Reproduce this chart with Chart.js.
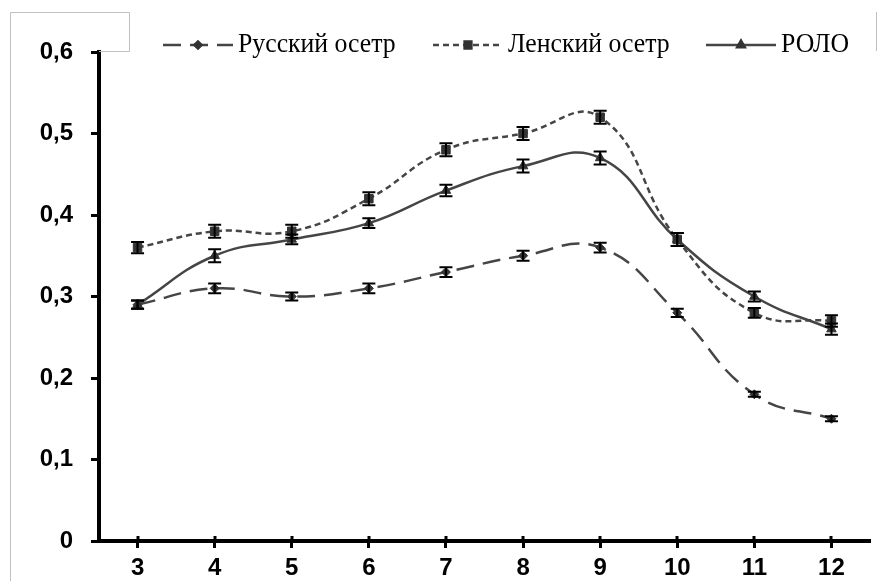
<!DOCTYPE html>
<html>
<head>
<meta charset="utf-8">
<script src="https://cdn.jsdelivr.net/npm/chart.js@4/dist/chart.umd.min.js"></script>
<style>
  html, body { margin: 0; padding: 0; background: #fff; }
  #wrap { width: 877px; height: 581px; }
</style>
</head>
<body>
<div id="wrap"><canvas id="c" width="877" height="581"></canvas></div>
<script>
// Months on the x axis
const months = ['3', '4', '5', '6', '7', '8', '9', '10', '11', '12'];

// Mean values per series
const russianSturgeon = [0.29, 0.31, 0.30, 0.31, 0.33, 0.35, 0.36, 0.28, 0.18, 0.15];
const lenaSturgeon    = [0.36, 0.38, 0.38, 0.42, 0.48, 0.50, 0.52, 0.37, 0.28, 0.27];
const rolo            = [0.29, 0.35, 0.37, 0.39, 0.43, 0.46, 0.47, 0.37, 0.30, 0.26];

// Error (± half-width) per point
const russianErr = [0.005, 0.006, 0.005, 0.006, 0.006, 0.006, 0.006, 0.005, 0.003, 0.003];
const lenaErr    = [0.007, 0.008, 0.008, 0.008, 0.008, 0.008, 0.008, 0.008, 0.006, 0.007];
const roloErr    = [0.005, 0.008, 0.006, 0.006, 0.007, 0.008, 0.008, 0.008, 0.006, 0.007];

// Y tick labels (decimal comma)
const yTickLabels = ['0', '0,1', '0,2', '0,3', '0,4', '0,5', '0,6'];

const seriesNames = ['Русский осетр', 'Ленский осетр', 'РОЛО'];

const lineColor = '#454545';
const markColor = '#333333';

const errors = [russianErr, lenaErr, roloErr];

// Legend sample start positions
const legendX = [163, 433, 706];
const legendY = 45;
const sampleLen = 70;

const errorBars = {
  id: 'errorBars',
  afterDatasetsDraw(chart) {
    const ctx = chart.ctx;
    const ys = chart.scales.y;
    ctx.save();
    ctx.strokeStyle = '#000';
    ctx.lineWidth = 2;
    chart.data.datasets.forEach((ds, i) => {
      const meta = chart.getDatasetMeta(i);
      const err = errors[i];
      meta.data.forEach((pt, j) => {
        const v = ds.data[j];
        const yt = ys.getPixelForValue(v + err[j]);
        const yb = ys.getPixelForValue(v - err[j]);
        const x = pt.x;
        ctx.beginPath();
        ctx.moveTo(x, yt); ctx.lineTo(x, yb);
        ctx.moveTo(x - 6.5, yt); ctx.lineTo(x + 6.5, yt);
        ctx.moveTo(x - 6.5, yb); ctx.lineTo(x + 6.5, yb);
        ctx.stroke();
      });
    });
    ctx.restore();
  }
};

const decorations = {
  id: 'decorations',
  afterDraw(chart) {
    const ctx = chart.ctx;
    const xs = chart.scales.x;
    const area = chart.chartArea;
    ctx.save();
    // thin frame lines
    ctx.strokeStyle = '#c0c0c0';
    ctx.lineWidth = 1;
    ctx.beginPath();
    ctx.moveTo(10.5, 581);
    ctx.lineTo(10.5, 12.5);
    ctx.lineTo(129.5, 12.5);
    ctx.lineTo(129.5, 51.5);
    ctx.lineTo(area.left, 51.5);
    ctx.moveTo(876.5, 12);
    ctx.lineTo(876.5, 51);
    ctx.stroke();

    // x tick marks crossing into the plot
    ctx.strokeStyle = '#000';
    ctx.lineWidth = 3;
    ctx.beginPath();
    months.forEach((m, i) => {
      const x = Math.round(xs.getPixelForValue(i));
      ctx.moveTo(x, area.bottom);
      ctx.lineTo(x, area.bottom - 5);
    });
    ctx.stroke();

    // legend: line sample with marker, then the series name
    chart.data.datasets.forEach((ds, i) => {
      const x0 = legendX[i];
      ctx.save();
      ctx.strokeStyle = ds.borderColor;
      ctx.lineWidth = ds.borderWidth;
      ctx.setLineDash(ds.borderDash || []);
      ctx.beginPath();
      ctx.moveTo(x0, legendY);
      ctx.lineTo(x0 + sampleLen, legendY);
      ctx.stroke();
      ctx.setLineDash([]);
      ctx.fillStyle = ds.pointBackgroundColor;
      ctx.strokeStyle = ds.pointBorderColor;
      Chart.helpers.drawPoint(ctx, {
        pointStyle: ds.pointStyle,
        radius: ds.pointRadius * 0.8,
        borderWidth: 1,
        rotation: 0
      }, x0 + sampleLen / 2, legendY);
      ctx.restore();

      ctx.save();
      ctx.font = '28px "Liberation Serif", "Times New Roman", serif';
      ctx.textBaseline = 'middle';
      ctx.fillStyle = '#000';
      ctx.translate(x0 + sampleLen + 5, legendY);
      ctx.scale(0.92, 1);
      ctx.fillText(ds.label, 0, 0);
      ctx.restore();
    });
    ctx.restore();
  }
};

function makeDataset(label, data, dash, style, radius) {
  return {
    label: label,
    data: data,
    borderColor: lineColor,
    borderWidth: 2.5,
    borderDash: dash,
    pointStyle: style,
    pointRadius: radius,
    pointHoverRadius: radius,
    pointBackgroundColor: markColor,
    pointBorderColor: markColor,
    pointBorderWidth: 1,
    tension: 0.45,
    fill: false
  };
}

new Chart(document.getElementById('c'), {
  type: 'line',
  data: {
    labels: months,
    datasets: [
      makeDataset(seriesNames[0], russianSturgeon, [18, 9], 'rectRot', 4.5),
      makeDataset(seriesNames[1], lenaSturgeon, [6, 4], 'rect', 6),
      makeDataset(seriesNames[2], rolo, [], 'triangle', 5.5)
    ]
  },
  options: {
    responsive: false,
    animation: false,
    events: [],
    layout: { padding: { top: 52, right: 0, left: 0, bottom: 0 } },
    plugins: {
      legend: { display: false },
      tooltip: { enabled: false }
    },
    scales: {
      x: {
        offset: true,
        grid: {
          display: true,
          drawOnChartArea: false,
          drawTicks: true,
          tickLength: 7,
          tickWidth: 3,
          tickColor: '#000',
          offset: false
        },
        border: { display: true, color: '#000', width: 4 },
        ticks: {
          color: '#000',
          font: { family: '"Liberation Sans", Arial, sans-serif', size: 24, weight: 'bold' },
          padding: 6,
          maxRotation: 0,
          autoSkip: false
        },
        afterFit(scale) { scale.height = 40; }
      },
      y: {
        min: 0,
        max: 0.6,
        grid: {
          display: true,
          drawOnChartArea: false,
          drawTicks: true,
          tickLength: 8,
          tickWidth: 3,
          tickColor: '#000'
        },
        border: { display: true, color: '#000', width: 4 },
        ticks: {
          stepSize: 0.1,
          color: '#000',
          padding: 18,
          font: { family: '"Liberation Sans", Arial, sans-serif', size: 24, weight: 'bold' },
          callback: (v, i) => yTickLabels[i]
        },
        afterFit(scale) { scale.width = 99; }
      }
    }
  },
  plugins: [errorBars, decorations]
});
</script>
</body>
</html>
